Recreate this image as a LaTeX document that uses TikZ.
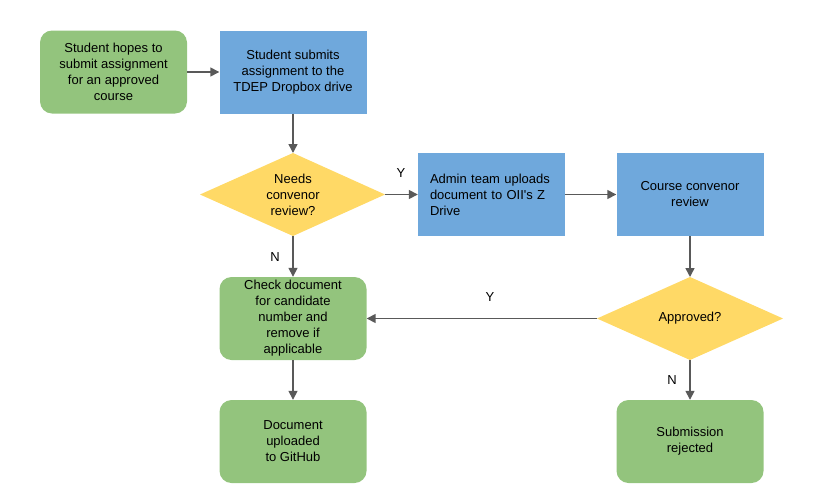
\documentclass[tikz,border=0pt]{standalone}
\usepackage{fontspec}
\setmainfont{Liberation Sans}
\usetikzlibrary{shapes.geometric,arrows.meta}
\definecolor{gfill}{HTML}{93C47D}
\definecolor{bfill}{HTML}{6FA8DC}
\definecolor{yfill}{HTML}{FFD966}
\definecolor{lgray}{HTML}{595959}
\begin{document}
\begin{tikzpicture}[x=1pt,y=-1pt,
  base/.style={font=\fontsize{13}{16}\selectfont, align=center, inner sep=0pt},
  gbox/.style={base, fill=gfill, rounded corners=12pt, minimum width=147pt, minimum height=83pt},
  bbox/.style={base, fill=bfill, minimum width=147pt, minimum height=83pt},
  conn/.style={draw=lgray, line width=1.5pt, -{Triangle[length=9pt,width=9pt]}},
  lab/.style={font=\fontsize{13}{16}\selectfont, inner sep=0pt}]
\useasboundingbox (0,0) rectangle (821,498);
\node[gbox] (start) at (113.5,72) {Student hopes to\\submit assignment\\for an approved\\course};
\node[bbox] (submit) at (293,72) {Student submits\\assignment to the\\TDEP Dropbox drive};
\path[fill=yfill] (200,194.5) -- (293,153) -- (385,194.5) -- (293,236) -- cycle;
\node[base] (needs) at (293,194.5) {Needs\\convenor\\review?};
\coordinate (needsN) at (293,153);
\coordinate (needsE) at (385,194.5);
\coordinate (needsS) at (293,236);
\node[bbox, align=left, text width=123pt] (admin) at (491.5,194.5) {Admin team uploads\\document to OII\textquotesingle s Z\\Drive};
\node[bbox] (review) at (690,194.5) {Course convenor\\review};
\path[fill=yfill] (597,318.5) -- (690,277) -- (783,318.5) -- (690,360) -- cycle;
\node[base] (approved) at (690,318.5) {Approved?};
\coordinate (apN) at (690,277);
\coordinate (apW) at (597,318.5);
\coordinate (apS) at (690,360);
\node[gbox] (check) at (293,318.5) {Check document\\for candidate\\number and\\remove if\\applicable};
\node[gbox] (github) at (293,441.5) {Document\\uploaded\\to GitHub};
\node[gbox] (rejected) at (690,441.5) {Submission\\rejected};
\draw[conn] (start.east) -- (submit.west);
\draw[conn] (submit.south) -- (needsN);
\draw[conn] (needsE) -- (admin.west);
\draw[conn] (admin.east) -- (review.west);
\draw[conn] (review.south) -- (apN);
\draw[conn] (apW) -- (check.east);
\draw[conn] (needsS) -- (check.north);
\draw[conn] (check.south) -- (github.north);
\draw[conn] (apS) -- (rejected.north);
\node[lab] (y1) at (401,173) {Y};
\node[lab] (y2) at (490,297) {Y};
\node[lab] (n1) at (275,257) {N};
\node[lab] (n2) at (672,380) {N};
\end{tikzpicture}
\end{document}
